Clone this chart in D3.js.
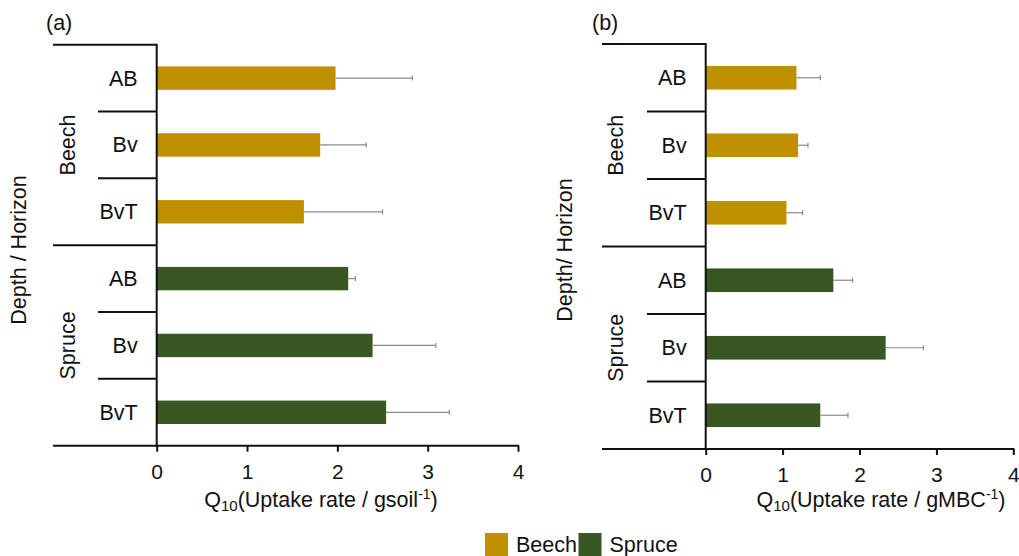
<!DOCTYPE html>
<html>
<head>
<meta charset="utf-8">
<script src="https://cdn.jsdelivr.net/npm/d3@7"></script>
<style>
  html, body { margin: 0; padding: 0; background: #fff; }
  svg { display: block; font-family: "Liberation Sans", Arial, sans-serif; }
</style>
</head>
<body>
<svg id="chart" width="1019" height="556"></svg>
<script>
// Stands and horizons
const groups = ["Beech", "Spruce"];
const horizons = ["AB", "Bv", "BvT"];
const tickValues = [0, 1, 2, 3, 4];

// Q10 per gram soil
const soilBeech = [1.98, 1.81, 1.63];
const soilBeechErr = [0.85, 0.51, 0.87];
const soilSpruce = [2.12, 2.39, 2.54];
const soilSpruceErr = [0.08, 0.70, 0.70];

// Q10 per gram microbial biomass C
const mbcBeech = [1.18, 1.20, 1.05];
const mbcBeechErr = [0.31, 0.13, 0.21];
const mbcSpruce = [1.66, 2.34, 1.49];
const mbcSpruceErr = [0.25, 0.49, 0.36];

const colors = { Beech: "#BF9000", Spruce: "#385723" };
const ink = "#111";
const fs = 21.5;

function rows(beech, beechErr, spruce, spruceErr) {
  const out = [];
  horizons.forEach((h, i) => out.push({ group: "Beech", horizon: h, key: "Beech-" + h, value: beech[i], err: beechErr[i] }));
  horizons.forEach((h, i) => out.push({ group: "Spruce", horizon: h, key: "Spruce-" + h, value: spruce[i], err: spruceErr[i] }));
  return out;
}

const svg = d3.select("#chart");

function panel(opts) {
  const data = rows(...opts.series);
  const g = svg.append("g");
  const x = d3.scaleLinear().domain([0, 4]).range([opts.x0, opts.x1]);
  const y = d3.scaleBand().domain(data.map(d => d.key))
    .range([opts.y0, opts.y1]).paddingInner(0.65).paddingOuter(0.325);
  const step = y.step();

  // bars
  g.selectAll("rect.bar").data(data).join("rect")
    .attr("class", "bar")
    .attr("x", x(0))
    .attr("y", d => y(d.key))
    .attr("width", d => x(d.value) - x(0))
    .attr("height", y.bandwidth())
    .attr("fill", d => colors[d.group]);

  // error bars (upper side)
  const eb = g.selectAll("g.err").data(data).join("g").attr("class", "err")
    .attr("stroke", "#8a8a8a").attr("stroke-width", 1.2);
  eb.append("line")
    .attr("x1", d => x(d.value)).attr("x2", d => x(d.value + d.err))
    .attr("y1", d => y(d.key) + y.bandwidth() / 2)
    .attr("y2", d => y(d.key) + y.bandwidth() / 2);
  eb.append("line")
    .attr("x1", d => x(d.value + d.err)).attr("x2", d => x(d.value + d.err))
    .attr("y1", d => y(d.key) + y.bandwidth() / 2 - 2.5)
    .attr("y2", d => y(d.key) + y.bandwidth() / 2 + 2.5);

  // x axis
  const axis = d3.axisBottom(x).tickValues(tickValues).tickSize(6).tickPadding(12)
    .tickFormat(d3.format("d"));
  const ax = g.append("g").attr("transform", `translate(0,${opts.y1})`).call(axis);
  ax.select(".domain").remove();
  ax.selectAll(".tick line").attr("stroke", ink).attr("stroke-width", 2);
  ax.selectAll(".tick text").attr("fill", ink).attr("font-size", 21)
    .attr("font-family", "Liberation Sans, Arial, sans-serif");

  // frame lines of the category axis
  const line = (x1, y1, x2, y2, w) => g.append("line")
    .attr("x1", x1).attr("y1", y1).attr("x2", x2).attr("y2", y2)
    .attr("stroke", ink).attr("stroke-width", w);
  line(x(0), opts.y0 - 1, x(0), opts.y1 + 1, 2);
  line(opts.xl, opts.y1, x(4) + 1, opts.y1, 2);
  line(opts.xl, opts.y0, x(0), opts.y0, 2);
  line(opts.xl, opts.y0 + 3 * step, x(0), opts.y0 + 3 * step, 2);
  [1, 2, 4, 5].forEach(k => line(opts.xs, opts.y0 + k * step, x(0), opts.y0 + k * step, 2));

  // horizon labels
  g.selectAll("text.hz").data(data).join("text")
    .attr("class", "hz")
    .attr("x", x(0) - 19)
    .attr("y", d => y(d.key) + y.bandwidth() / 2 + 7.5)
    .attr("text-anchor", "end").attr("font-size", fs).attr("fill", ink)
    .text(d => d.horizon);

  // stand labels, rotated
  groups.forEach((grp, i) => {
    const cy = opts.y0 + (i * 3 + 1.5) * step;
    g.append("text")
      .attr("transform", `translate(${opts.gx},${cy}) rotate(-90)`)
      .attr("text-anchor", "middle").attr("font-size", fs).attr("fill", ink)
      .text(grp);
  });

  // y axis title
  g.append("text")
    .attr("transform", `translate(${opts.tx},250) rotate(-90)`)
    .attr("text-anchor", "middle").attr("font-size", fs).attr("fill", ink)
    .text(opts.yTitle);

  // x axis title with subscript and superscript
  const t = g.append("text")
    .attr("x", opts.titleX).attr("y", 507)
    .attr("text-anchor", "middle").attr("font-size", fs).attr("fill", ink);
  t.append("tspan").text("Q");
  t.append("tspan").attr("font-size", 15).attr("dy", 4).text("10");
  t.append("tspan").attr("dy", -4).text("(Uptake rate / " + opts.unit);
  t.append("tspan").attr("font-size", 14).attr("dy", -8).text("-1");
  t.append("tspan").attr("dy", 8).text(")");

  // panel letter
  g.append("text").attr("x", opts.letterX).attr("y", 30)
    .attr("font-size", fs).attr("fill", ink).text(opts.letter);
}

panel({
  series: [soilBeech, soilBeechErr, soilSpruce, soilSpruceErr],
  x0: 156.7, x1: 518, y0: 44.7, y1: 445.7, xl: 53, xs: 98,
  gx: 74.5, tx: 25.5, titleX: 321, yTitle: "Depth / Horizon",
  unit: "gsoil", letter: "(a)", letterX: 46
});

panel({
  series: [mbcBeech, mbcBeechErr, mbcSpruce, mbcSpruceErr],
  x0: 705.7, x1: 1013.3, y0: 44, y1: 449, xl: 602, xs: 647,
  gx: 623, tx: 571.5, titleX: 881, yTitle: "Depth/ Horizon",
  unit: "gMBC", letter: "(b)", letterX: 592
});

// legend
const legend = svg.append("g");
const legendX = { Beech: 485, Spruce: 578.5 };
groups.forEach(grp => {
  legend.append("rect").attr("x", legendX[grp]).attr("y", 533)
    .attr("width", 23).attr("height", 23).attr("fill", colors[grp]);
  legend.append("text").attr("x", legendX[grp] + 31).attr("y", 551.5)
    .attr("font-size", fs).attr("fill", ink).text(grp);
});
</script>
</body>
</html>
